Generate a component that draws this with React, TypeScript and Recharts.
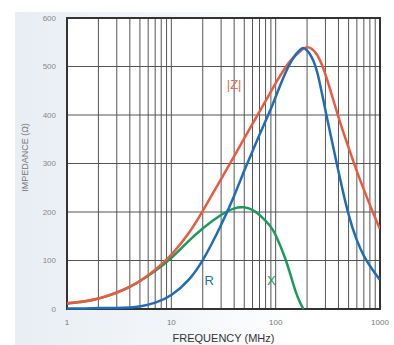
import React from "react";
import {
  CartesianGrid,
  Label,
  Line,
  LineChart,
  ReferenceArea,
  ReferenceDot,
  XAxis,
  YAxis,
} from "recharts";

// frequency points (MHz)
const freqs = [
  1, 1.5, 2, 3, 4, 5, 7, 10, 15, 20, 30, 40, 50, 60, 70, 90, 100, 125, 140,
  155, 175, 185, 200, 220, 250, 300, 400, 500, 600, 700, 850, 1000,
];
// |Z| impedance
const zValues = [
  12, 16, 21, 33, 45, 57, 80, 110, 157, 202, 268, 315, 352, 382, 407, 448,
  466, 500, 513, 523, 533, 537, 541, 538, 527, 488, 393, 333, 283, 246, 200,
  165,
];
// R resistance
const rValues = [
  1, 1, 2, 2, 3, 5, 12, 26, 60, 98, 172, 232, 286, 325, 360, 412, 438, 490,
  510, 525, 537, 539, 534, 522, 495, 408, 283, 190, 140, 108, 80, 60,
];
// X reactance (drops to zero near 185 MHz)
const xValues: (number | null)[] = [
  11, 15, 21, 33, 46, 57, 78, 104, 143, 167, 195, 209, 211, 205, 195, 171,
  154, 103, 68, 35, 8, 0, null, null, null, null, null, null, null, null,
  null, null,
];

const xTicks = [
  1, 2, 3, 4, 5, 6, 7, 8, 9, 10, 20, 30, 40, 50, 60, 70, 80, 90, 100, 200, 300,
  400, 500, 600, 700, 800, 900, 1000,
];
const decadeLabels = [1, 10, 100, 1000];
const yTicks = [0, 100, 200, 300, 400, 500, 600];

const data = freqs.map((f, i) => ({
  f,
  z: zValues[i],
  r: rValues[i],
  x: xValues[i],
}));

const font = "Liberation Sans, Arial, sans-serif";

function ImpedanceChart() {
  return (
    <div
      style={{
        position: "absolute",
        left: 0,
        top: 0,
        width: 394,
        height: 345,
        background: "#fff",
      }}
    >
      <div
        style={{
          position: "absolute",
          left: 15,
          top: 12,
          width: 379,
          height: 333,
          background:
            "linear-gradient(90deg, #e8eef4 0%, #f2f5f8 40%, #ffffff 75%)",
        }}
      />
      <LineChart
        width={394}
        height={345}
        data={data}
        margin={{ top: 18, right: 14, left: 26, bottom: 0 }}
        style={{ position: "absolute", left: 0, top: 0, fontFamily: font }}
      >
        <CartesianGrid stroke="#555" strokeWidth={1} fill="#fff" />
        <XAxis
          dataKey="f"
          type="number"
          scale="log"
          domain={[1, 1000]}
          ticks={xTicks}
          interval={0}
          tickFormatter={(v: number) =>
            decadeLabels.includes(v) ? String(v) : ""
          }
          tick={{ fontSize: 8, fill: "#777" }}
          tickLine={false}
          axisLine={false}
          tickMargin={4}
          height={36}
          allowDataOverflow
        >
          <Label
            value="FREQUENCY (MHz)"
            position="insideBottom"
            offset={3}
            style={{ fontSize: 11, fill: "#333" }}
          />
        </XAxis>
        <YAxis
          type="number"
          domain={[0, 600]}
          ticks={yTicks}
          interval={0}
          tick={{ fontSize: 8, fill: "#888" }}
          tickLine={false}
          axisLine={false}
          tickMargin={5}
          width={41}
        >
          <Label
            value="IMPEDANCE (Ω)"
            angle={-90}
            position="insideLeft"
            offset={-1}
            dy={-6}
            style={{ fontSize: 9, fill: "#777", textAnchor: "middle" }}
          />
        </YAxis>
        <ReferenceArea
          x1={1}
          x2={1000}
          y1={0}
          y2={600}
          fill="none"
          stroke="#333"
          strokeWidth={2}
          ifOverflow="visible"
        />
        <Line
          type="basis"
          dataKey="x"
          stroke="#1c9a5c"
          strokeWidth={2.5}
          dot={false}
          connectNulls={false}
          isAnimationActive={false}
        />
        <Line
          type="basis"
          dataKey="z"
          stroke="#ec5a3e"
          strokeWidth={2.5}
          dot={false}
          isAnimationActive={false}
        />
        <Line
          type="basis"
          dataKey="r"
          stroke="#1f6db8"
          strokeWidth={2.5}
          dot={false}
          isAnimationActive={false}
        />
        <ReferenceDot
          x={40}
          y={464}
          r={0}
          label={{
            value: "|Z|",
            position: "center",
            fill: "#ec6a55",
            fontSize: 13,
          }}
        />
        <ReferenceDot
          x={23}
          y={58}
          r={0}
          label={{
            value: "R",
            position: "center",
            fill: "#1f6db8",
            fontSize: 13,
          }}
        />
        <ReferenceDot
          x={91}
          y={58}
          r={0}
          label={{
            value: "X",
            position: "center",
            fill: "#1c9a5c",
            fontSize: 13,
          }}
        />
      </LineChart>
    </div>
  );
}

export default function App() {
  return <ImpedanceChart />;
}
